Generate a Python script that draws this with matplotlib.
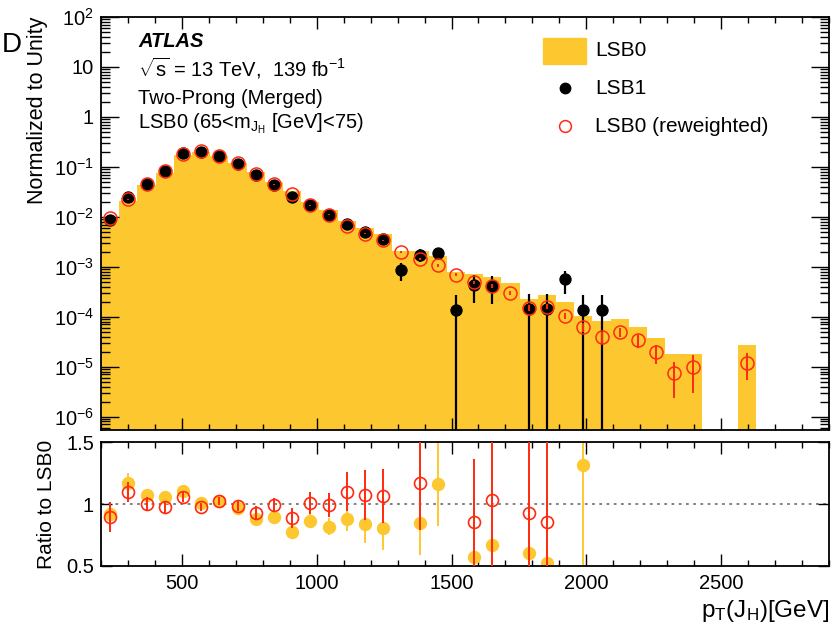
import numpy as np
import matplotlib
matplotlib.use("Agg")
import matplotlib.pyplot as plt
from matplotlib.ticker import FixedLocator, NullFormatter, FixedFormatter, MultipleLocator
from matplotlib.patches import Rectangle
from matplotlib.lines import Line2D

plt.rcParams['font.family'] = ['Liberation Sans', 'DejaVu Sans']
plt.rcParams['mathtext.fontset'] = 'custom'
plt.rcParams['mathtext.rm'] = 'Liberation Sans'
plt.rcParams['mathtext.it'] = 'Liberation Sans:italic'
plt.rcParams['mathtext.bf'] = 'Liberation Sans:bold'

nan = np.nan
# ---------------- data ----------------
bin_edges = np.linspace(200, 2900, 41)          # 40 bins of 67.5 GeV
bin_centers = 0.5 * (bin_edges[:-1] + bin_edges[1:])

lsb0_hist = [0.00925, 0.0209, 0.0429, 0.0764, 0.171, 0.199, 0.163, 0.120, 0.0776, 0.049,
             0.0322, 0.0197, 0.0135, 0.0082, 0.0059, 0.00446, 0.0021, 0.00204, 0.00162, 7.7e-4,
             7.2e-4, 6.2e-4, 4.7e-4, 2.3e-4, 2.7e-4, 2.0e-4, 1.05e-4, 8.1e-5, 9.1e-5, 6.3e-5,
             3.7e-5, 1.8e-5, 1.8e-5, 0, 0, 2.7e-5, 0, 0, 0, 0]

lsb1 = [0.0085, 0.0245, 0.046, 0.081, 0.19, 0.20, 0.167, 0.116, 0.068, 0.044,
        0.025, 0.017, 0.011, 0.0072, 0.0049, 0.0036, 8.5e-4, 1.74e-3, 1.89e-3, 1.38e-4,
        4.3e-4, 4.2e-4, nan, 1.4e-4, 1.4e-4, 5.6e-4, 1.38e-4, 1.38e-4, nan, nan,
        nan, nan, nan, nan, nan, nan, nan, nan, nan, nan]
lsb1_err = [1.08e-3, 1.84e-3, 2.52e-3, 3.34e-3, 5.1e-3, 5.25e-3, 4.8e-3, 4.0e-3, 3.06e-3, 2.46e-3,
            1.86e-3, 1.53e-3, 1.23e-3, 1.0e-3, 8.2e-4, 7.0e-4, 3.4e-4, 4.9e-4, 5.1e-4, 1.38e-4,
            2.4e-4, 2.4e-4, nan, 1.4e-4, 1.4e-4, 2.8e-4, 1.38e-4, 1.38e-4, nan, nan,
            nan, nan, nan, nan, nan, nan, nan, nan, nan, nan]

lsb0_rew = [0.0095, 0.0224, 0.046, 0.0832, 0.180, 0.205, 0.163, 0.118, 0.073, 0.0444,
            0.0282, 0.0169, 0.0111, 0.0065, 0.00457, 0.00338, 0.00197, 0.00145, 0.00107, 6.9e-4,
            4.9e-4, 4.1e-4, 2.97e-4, 1.48e-4, 1.6e-4, 1.05e-4, 6.2e-5, 3.9e-5, 5.0e-5, 3.4e-5,
            1.95e-5, 7.4e-6, 1.0e-5, nan, nan, 1.2e-5, nan, nan, nan, nan]
lsb0_rew_err = [1e-4, 2e-4, 3e-4, 4e-4, 6e-4, 6e-4, 5e-4, 4e-4, 3e-4, 2e-4,
                1.5e-4, 1.2e-4, 1e-4, 8e-5, 7e-5, 7e-5, 1e-4, 8e-5, 7e-5, 5e-5,
                4e-5, 4e-5, 3e-5, 2e-5, 2e-5, 1.5e-5, 1.2e-5, 1e-5, 1e-5, 1e-5,
                8e-6, 5e-6, 7e-6, nan, nan, 6.5e-6, nan, nan, nan, nan]

ratio_lsb1 = [0.919, 1.173, 1.073, 1.06, 1.108, 1.005, 1.024, 0.965, 0.876, 0.897,
              0.776, 0.862, 0.816, 0.878, 0.835, 0.808, nan, 0.849, 1.16, nan,
              0.573, 0.668, nan, 0.60, 0.524, nan, 1.316, nan, nan, nan,
              nan, nan, nan, nan, nan, nan, nan, nan, nan, nan]
ratio_lsb1_err = [0.08, 0.08, 0.04, 0.03, 0.02, 0.02, 0.02, 0.03, 0.03, 0.04,
                  0.05, 0.06, 0.07, 0.10, 0.15, 0.18, nan, 0.26, 0.34, nan,
                  0.33, 0.38, nan, 0.6, 0.55, nan, 1.3, nan, nan, nan,
                  nan, nan, nan, nan, nan, nan, nan, nan, nan, nan]
ratio_rew = [0.897, 1.095, 1.0, 0.973, 1.054, 0.976, 1.024, 0.986, 0.93, 0.992,
             0.887, 1.005, 0.992, 1.10, 1.073, 1.065, nan, 1.168, nan, nan,
             0.857, 1.032, nan, 0.924, 0.857, nan, nan, nan, nan, nan,
             nan, nan, nan, nan, nan, nan, nan, nan, nan, nan]
ratio_rew_err = [0.12, 0.08, 0.06, 0.05, 0.04, 0.03, 0.03, 0.04, 0.05, 0.06,
                 0.08, 0.09, 0.10, 0.16, 0.20, 0.22, nan, 0.38, nan, nan,
                 0.51, 0.6, nan, 0.7, 0.7, nan, nan, nan, nan, nan,
                 nan, nan, nan, nan, nan, nan, nan, nan, nan, nan]

x_ticks = [500, 1000, 1500, 2000, 2500]
x_ticklabels = ['500', '1000', '1500', '2000', '2500']
y_ticks = [1e-6, 1e-5, 1e-4, 1e-3, 1e-2, 1e-1, 1, 10, 100]
y_ticklabels = [r'$\mathregular{10^{-6}}$', r'$\mathregular{10^{-5}}$', r'$\mathregular{10^{-4}}$',
                r'$\mathregular{10^{-3}}$', r'$\mathregular{10^{-2}}$', r'$\mathregular{10^{-1}}$',
                '1', '10', r'$\mathregular{10^{2}}$']
r_ticks = [0.5, 1.0, 1.5]
r_ticklabels = ['0.5', '1', '1.5']

# ---------------- style ----------------
YEL = '#fdc82f'
RED = '#ff2a10'
FS = 14.5

W, H = 833, 627
fig = plt.figure(figsize=(W / 100, H / 100), dpi=100)
ax = fig.add_axes([101 / W, 1 - 430 / H, 728 / W, 413 / H])
rax = fig.add_axes([101 / W, 1 - 565.7 / H, 728 / W, 123.4 / H])

lsb1 = np.array(lsb1); lsb1_err = np.array(lsb1_err)
lsb0_rew = np.array(lsb0_rew); lsb0_rew_err = np.array(lsb0_rew_err)

# histogram
ax.stairs(lsb0_hist, bin_edges, fill=True, color=YEL, baseline=1e-12, zorder=1)
# LSB1
lo = np.minimum(lsb1_err, lsb1 - 1e-12)
ax.errorbar(bin_centers, lsb1, yerr=[lo, lsb1_err], fmt='o', color='black', ms=7.9,
            elinewidth=1.6, capsize=0, zorder=3)
# LSB0 reweighted
lo2 = np.minimum(lsb0_rew_err, lsb0_rew - 1e-12)
ax.errorbar(bin_centers, lsb0_rew, yerr=[lo2, lsb0_rew_err], fmt='o', mfc='none', mec=RED,
            ecolor=RED, ms=9.4, mew=1.1, elinewidth=1.4, capsize=0, zorder=4)

ax.set_yscale('log')
ax.set_xlim(200, 2900)
ax.set_ylim(5.4e-7, 100)

for a in (ax, rax):
    a.xaxis.set_major_locator(FixedLocator(x_ticks))
    a.xaxis.set_minor_locator(MultipleLocator(100))
    a.tick_params(axis='x', which='major', direction='in', length=8.6, width=1, top=True, bottom=True)
    a.tick_params(axis='x', which='minor', direction='in', length=4.3, width=1, top=True, bottom=True)
    for s in a.spines.values():
        s.set_linewidth(1.3)

ax.xaxis.set_major_formatter(NullFormatter())
ax.yaxis.set_major_locator(FixedLocator(y_ticks))
ax.yaxis.set_major_formatter(FixedFormatter(y_ticklabels))
minor_y = [m * 10.0 ** e for e in range(-7, 2) for m in range(2, 10)]
ax.yaxis.set_minor_locator(FixedLocator(minor_y))
ax.yaxis.set_minor_formatter(NullFormatter())
ax.tick_params(axis='y', which='major', direction='in', length=13, width=1, left=True, right=True,
               labelsize=FS, pad=5)
ax.tick_params(axis='y', which='minor', direction='in', length=6.5, width=1, left=True, right=True)

# ratio panel
rax.axhline(1.0, color='#777777', ls=(0, (1.5, 2.5)), lw=1.3, zorder=1)
rax.errorbar(bin_centers, ratio_lsb1, yerr=ratio_lsb1_err, fmt='o', color=YEL, ms=8.6,
             elinewidth=1.4, capsize=0, zorder=2)
rax.errorbar(bin_centers, ratio_rew, yerr=ratio_rew_err, fmt='o', mfc='none', mec=RED,
             ecolor=RED, ms=8.6, mew=1.2, elinewidth=1.4, capsize=0, zorder=3)
rax.set_xlim(200, 2900)
rax.set_ylim(0.5, 1.5)
rax.yaxis.set_major_locator(FixedLocator(r_ticks))
rax.yaxis.set_major_formatter(FixedFormatter(r_ticklabels))
rax.xaxis.set_major_formatter(FixedFormatter(x_ticklabels))
rax.tick_params(axis='y', which='major', direction='in', length=8, width=1, left=True, right=True,
                labelsize=FS, pad=5)
rax.tick_params(axis='x', which='major', labelsize=FS, pad=6)

# axis titles
fig.text(38 / W, 1 - 17 / H, 'Normalized to Unity', rotation=90, ha='center', va='top', fontsize=15.5)
fig.text(46 / W, 1 - 504 / H, 'Ratio to LSB0', rotation=90, ha='center', va='center', fontsize=FS + 0.5)
fig.text(829 / W, 1 - 617 / H, r'p$_{\mathregular{T}}$(J$_{\mathregular{H}}$)[GeV]', ha='right',
         va='baseline', fontsize=17.5)

# labels in plot
fig.text(138 / W, 1 - 46.7 / H, 'ATLAS', fontsize=14.5, fontweight='bold', fontstyle='italic',
         va='baseline')
fig.text(138 / W, 1 - 76.7 / H, r'$\sqrt{\mathregular{s}}$ = 13 TeV,  139 fb$^{\mathregular{-1}}$',
         fontsize=14.5, va='baseline')
fig.text(138 / W, 1 - 104 / H, 'Two-Prong (Merged)', fontsize=14.5, va='baseline')
fig.text(138 / W, 1 - 128.3 / H, r'LSB0 (65<m$_{\mathregular{J_H}}$ [GeV]<75)', fontsize=14.5,
         va='baseline')
fig.text(2 / W, 1 - 45 / H, 'D', fontsize=20, ha='left', va='center')

# legend (drawn manually in axes coordinates)
ax.add_patch(Rectangle((0.607, 0.886), 0.059, 0.063, transform=ax.transAxes, color=YEL,
                       clip_on=False, zorder=5))
ax.add_line(Line2D([0.637], [0.828], transform=ax.transAxes, marker='o', color='black', ms=7.5,
                   ls='none'))
ax.add_line(Line2D([0.637], [0.736], transform=ax.transAxes, marker='o', mfc='none', mec=RED,
                   mew=1.1, ms=8.5, ls='none'))
for yy, txt in [(0.918, 'LSB0'), (0.828, 'LSB1'), (0.736, 'LSB0 (reweighted)')]:
    ax.text(0.679, yy, txt, transform=ax.transAxes, fontsize=15, va='center', ha='left')

fig.savefig('out.png', dpi=100)
